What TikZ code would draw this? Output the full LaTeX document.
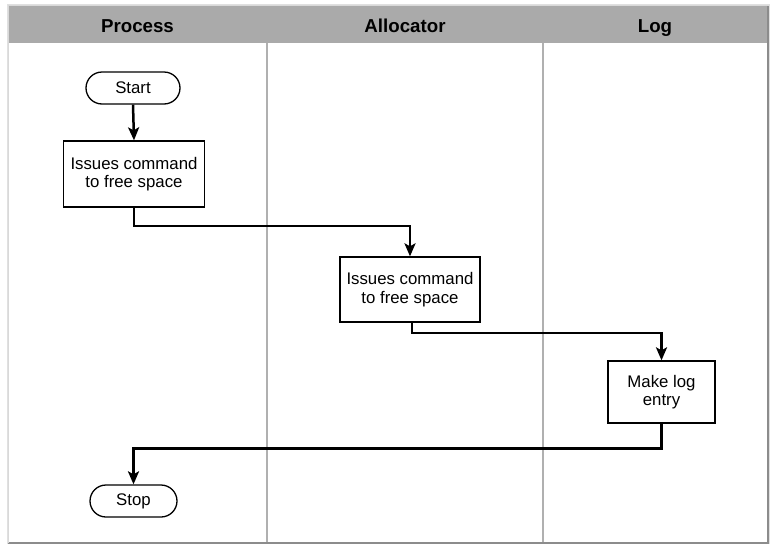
\documentclass[tikz,border=0pt]{standalone}
\usepackage{fontspec}
\setmainfont{Liberation Sans}
\usetikzlibrary{arrows.meta}
\definecolor{hdr}{HTML}{AAAAAA}
\definecolor{lane}{HTML}{B0B0B0}
\tikzset{
  x=1pt, y=-1pt,
  txt/.style={font=\fontsize{16.8}{18.5}\selectfont, align=center, inner sep=0pt},
  boxnode/.style={txt, draw, line width=1.3pt, fill=white},
  term/.style={txt, draw, line width=1.3pt, fill=white, rounded corners=16pt},
  hdrtext/.style={font=\fontsize{18.7}{20}\selectfont\bfseries, inner sep=0pt, anchor=base},
  flow/.style={line width=2.5pt, -{Stealth[length=13pt,width=11pt,inset=3pt]}},
}
\begin{document}
\begin{tikzpicture}
\useasboundingbox (0,0) rectangle (770,544);
% shadow
\fill[black!12] (6.5,4) rectangle (769.5,544);
\fill[white] (8,5.5) rectangle (768,543);
% header
\fill[hdr] (8,5.5) rectangle (768,43);
% lane dividers
\draw[lane, line width=2pt] (267,43) -- (267,543);
\draw[lane, line width=2pt] (543,43) -- (543,543);
% frame
\draw[black!45, line width=1.5pt] (768,5.5) -- (768,543) -- (8,543);
\draw[black!15, line width=0.6pt] (8,543) -- (8,5.5) -- (768,5.5);
% headers
\node[hdrtext] (h1) at (137.5,32.5) {Process};
\node[hdrtext] (h2) at (405,32.5) {Allocator};
\node[hdrtext] (h3) at (655,32.5) {Log};
% nodes
\node[term, minimum width=94pt, minimum height=32pt] (start) at (133,88) {Start};
\node[boxnode, minimum width=141pt, minimum height=66pt] (b1) at (134,174) {Issues command\\to free space};
\node[boxnode, minimum width=140pt, minimum height=65pt] (b2) at (410,289.5) {Issues command\\to free space};
\node[boxnode, minimum width=107pt, minimum height=62pt] (b3) at (661.5,392) {Make log\\entry};
\node[term, minimum width=87pt, minimum height=32pt] (stop) at (133.5,501) {Stop};
% connectors
\draw[flow] (start.south) -- (b1.north);
\draw[flow] (b1.south) -- (134,226) -| (b2.north);
\draw[flow] ([xshift=2pt]b2.south) -- ++(0,10.5) -| (b3.north);
\draw[flow] (b3.south) -- ++(0,25) -| (stop.north);
\end{tikzpicture}
\end{document}
